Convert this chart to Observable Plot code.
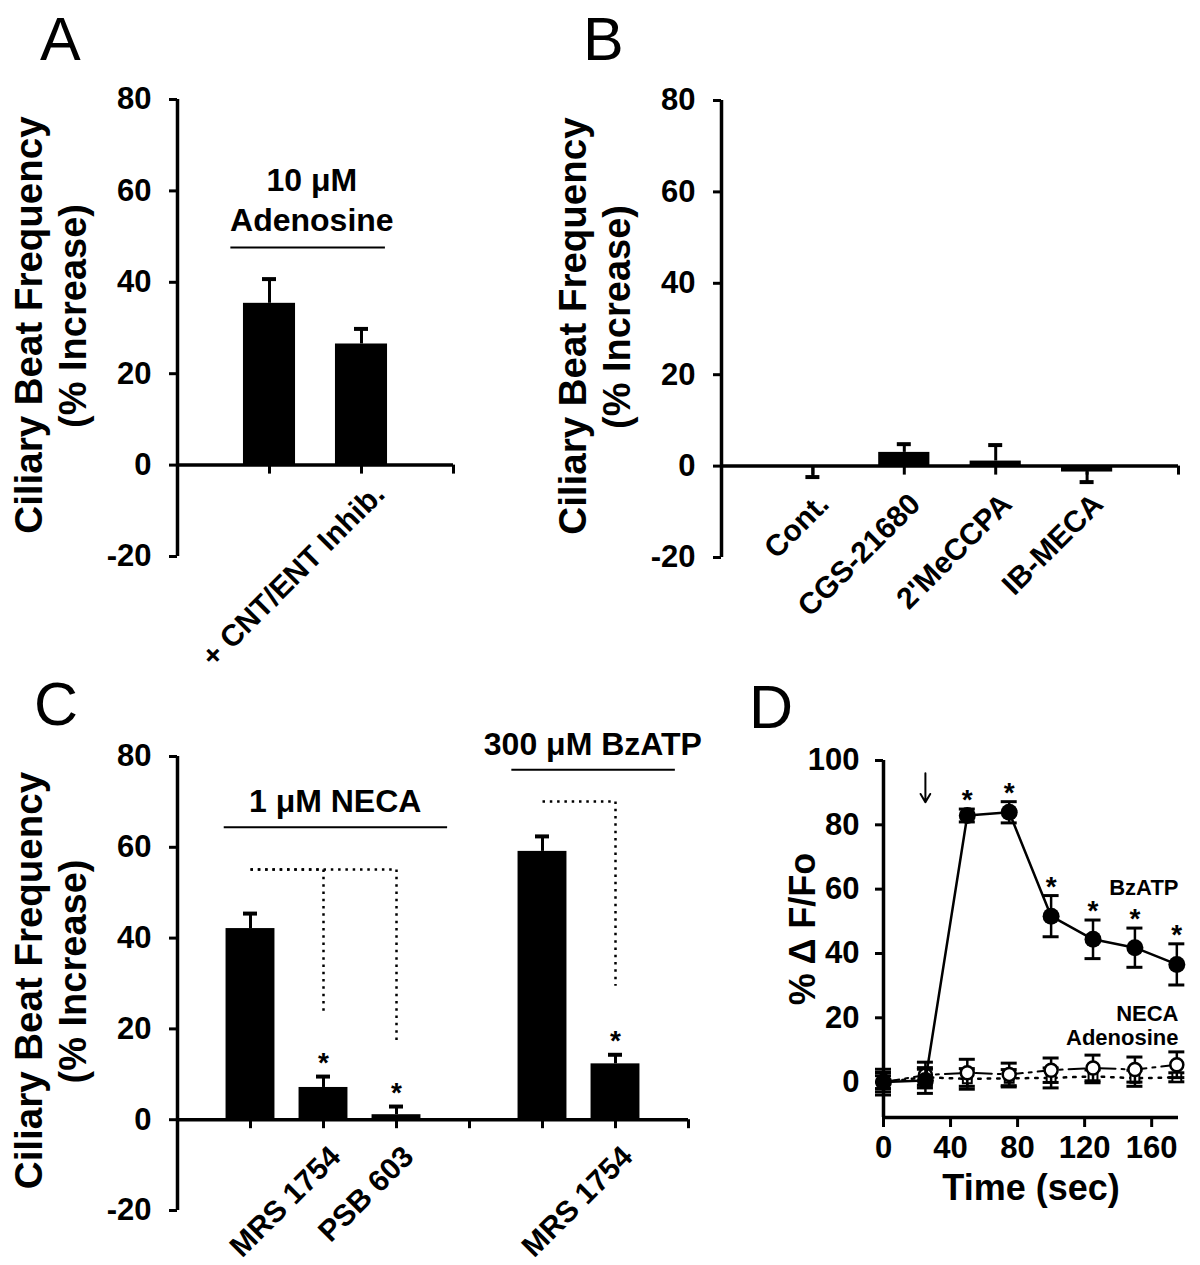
<!DOCTYPE html>
<html><head><meta charset="utf-8">
<script src="https://cdn.jsdelivr.net/npm/d3@7"></script>
<script src="https://cdn.jsdelivr.net/npm/@observablehq/plot@0.6"></script>
<style>
body{margin:0;background:#fff;}
#fig{position:relative;width:1200px;height:1265px;background:#fff;font-family:"Liberation Sans",Arial,sans-serif;}
.plabel{position:absolute;font-size:61px;line-height:1;font-family:"Liberation Sans",Arial,sans-serif;color:#000;}
</style></head><body><div id="fig"></div>
<script>
// ---------- DATA ----------
// Panel A
const posA = [1, 2];
const labelsA = ["", "+ CNT/ENT Inhib."];
const meanA = [35.4, 26.5];
const semA = [5.3, 3.3];
const ticksA = [1, 2, 3];
// Panel B
const posB = [1, 2, 3, 4];
const labelsB = ["Cont.", "CGS-21680", "2'MeCCPA", "IB-MECA"];
const meanB = [-0.3, 3.0, 1.1, -1.3];
const semB = [2.1, 1.8, 3.5, 2.2];
const ticksB = [1, 2, 3, 4, 5];
// Panel C
const posC = [1, 2, 3, 5, 6];
const labelsC = ["", "MRS 1754", "PSB 603", "", "MRS 1754"];
const meanC = [42.1, 7.1, 1.1, 59.1, 12.3];
const semC = [3.3, 2.4, 1.8, 3.3, 2.0];
const sigC = [false, true, true, false, true];
const ticksC = [1, 2, 3, 4, 5, 6, 7];
const bracketFrom = [1, 1, 5];
const bracketTo = [2, 3, 6];
const bracketTop = [55.1, 55.1, 70.1];
const bracketEnd = [23.4, 16.7, 29.5];
// Panel D
const timeD = [0, 25, 50, 75, 100, 125, 150, 175];
const bzatpMean = [0, 0.5, 82.9, 83.9, 51.6, 44.4, 41.8, 36.6];
const bzatpSem = [3, 4, 2, 3.3, 6.4, 6, 6.1, 6.4];
const bzatpSig = [false, false, true, true, true, true, true, true];
const necaMean = [0, 2.2, 2.9, 2.4, 3.7, 4.4, 3.9, 5.4];
const necaSem = [4, 4, 4.2, 3.5, 3.8, 4, 3.9, 4];
const adenoMean = [0, 1.5, 1.0, 1.2, 1.3, 1.8, 1.2, 1.5];
const adenoSem = [2, 2.5, 3.2, 2.7, 3.1, 2.0, 2.5, 1.4];
const ticksDx = [0, 40, 80, 120, 160];
const ticksDy = [0, 20, 40, 60, 80, 100];
const yTicksBar = [-20, 0, 20, 40, 60, 80];

// ---------- HELPERS ----------
const FONT = '"Liberation Sans", Arial, Helvetica, sans-serif';
const fig = document.getElementById("fig");
function place(node, left, top) {
  node.style.position = "absolute";
  node.style.left = left + "px";
  node.style.top = top + "px";
  fig.appendChild(node);
}
function panelLabel(t, left, top) {
  const d = document.createElement("div");
  d.className = "plabel"; d.textContent = t;
  d.style.left = left + "px"; d.style.top = top + "px";
  fig.appendChild(d);
}
const baseStyle = {fontFamily: FONT, fontWeight: "bold", fontSize: "31px", color: "#000", background: "transparent", overflow: "visible"};
const tip = d => d.mean + (d.mean < 0 ? -d.sem : d.sem);

function barMarks(data, ticks, xMin, half, ldx, ldy) {
  return [
    Plot.rect(data, {x1: d => d.pos - half, x2: d => d.pos + half, y1: 0, y2: "mean", fill: "#000"}),
    Plot.ruleX(data, {x: "pos", y1: "mean", y2: tip, strokeWidth: 3}),
    Plot.ruleY(data, {x1: "pos", x2: "pos", y: tip, insetLeft: -7, insetRight: -7, strokeWidth: 4}),
    Plot.axisY({ticks: yTicksBar, tickSize: 8, tickPadding: 18, strokeWidth: 3, tickFormat: d => String(d), label: null, fontSize: 31}),
    Plot.ruleX([xMin], {strokeWidth: 3.5}),
    Plot.ruleY([0], {strokeWidth: 3.5}),
    Plot.ruleX(ticks, {x: d => d, y1: 0, y2: 0, insetBottom: -9, strokeWidth: 3}),
    Plot.text(data.filter(d => d.label), {x: "pos", y: 0, text: "label", rotate: -45, textAnchor: "end", dx: ldx, dy: ldy, fontSize: 30}),
    Plot.text(["Ciliary Beat Frequency"], {frameAnchor: "left", textAnchor: "middle", lineAnchor: "middle", dx: -148, dy: -3, rotate: -90, fontSize: 38.5}),
    Plot.text(["(% Increase)"], {frameAnchor: "left", textAnchor: "middle", lineAnchor: "middle", dx: -104, dy: -12, rotate: -90, fontSize: 38})
  ];
}

// ---------- PANEL A ----------
const dataA = posA.map((p, i) => ({pos: p, label: labelsA[i], mean: meanA[i], sem: semA[i]}));
const plotA = Plot.plot({
  width: 600, height: 640, marginLeft: 177, marginRight: 147, marginTop: 99, marginBottom: 84,
  x: {domain: [0, 3], axis: null}, y: {domain: [-20, 80], axis: null},
  style: baseStyle,
  marks: [
    ...barMarks(dataA, ticksA, 0, 0.283, 18, 24),
    Plot.text(["10 μM"], {x: 1.46, y: 62.3, fontSize: 32}),
    Plot.text(["Adenosine"], {x: 1.46, y: 53.5, fontSize: 32}),
    Plot.ruleY([47.6], {x1: 0.58, x2: 2.26, strokeWidth: 2})
  ]
});
place(plotA, 0, 0);

// ---------- PANEL B ----------
const dataB = posB.map((p, i) => ({pos: p, label: labelsB[i], mean: meanB[i], sem: semB[i]}));
const plotB = Plot.plot({
  width: 600, height: 640, marginLeft: 121, marginRight: 22, marginTop: 100, marginBottom: 83,
  x: {domain: [0, 5], axis: null}, y: {domain: [-20, 80], axis: null},
  style: baseStyle,
  marks: barMarks(dataB, ticksB, 0, 0.28, 11, 33)
});
place(plotB, 600, 0);

// ---------- PANEL C ----------
const dataC = posC.map((p, i) => ({pos: p, label: labelsC[i], mean: meanC[i], sem: semC[i], sig: sigC[i]}));
const brackets = bracketFrom.map((f, i) => ({from: f, to: bracketTo[i], top: bracketTop[i], end: bracketEnd[i]}));
const plotC = Plot.plot({
  width: 760, height: 625, marginLeft: 177, marginRight: 72, marginTop: 116, marginBottom: 55,
  x: {domain: [0, 7], axis: null}, y: {domain: [-20, 80], axis: null},
  style: baseStyle,
  marks: [
    ...barMarks(dataC, ticksC, 0, 0.335, 12, 32),
    Plot.link(brackets, {x1: "from", x2: "to", y1: "top", y2: "top", strokeWidth: 2.5, strokeDasharray: "2.5,4.8"}),
    Plot.link(brackets, {x1: "to", x2: "to", y1: "top", y2: "end", strokeWidth: 2.5, strokeDasharray: "2.5,4.8"}),
    Plot.text(dataC.filter(d => d.sig), {x: "pos", y: tip, text: () => "*", dy: -14, fontSize: 28}),
    Plot.text(["1 μM NECA"], {x: 2.16, y: 70.1, fontSize: 32}),
    Plot.ruleY([64.4], {x1: 0.64, x2: 3.7, strokeWidth: 2}),
    Plot.text(["300 μM BzATP"], {x: 5.69, y: 82.6, fontSize: 32}),
    Plot.ruleY([77.1], {x1: 4.58, x2: 6.82, strokeWidth: 2})
  ]
});
place(plotC, 0, 640);

// ---------- PANEL D ----------
const mk = (m, s) => timeD.map((t, i) => ({t, mean: m[i], sem: s[i], lo: m[i] - s[i], hi: m[i] + s[i]}));
const bz = mk(bzatpMean, bzatpSem).map((d, i) => ({...d, sig: bzatpSig[i]}));
const ne = mk(necaMean, necaSem);
const ad = mk(adenoMean, adenoSem);
const yDomD = [-11, 100];
function errMarks(data, capW) {
  return [
    Plot.ruleX(data, {x: "t", y1: "lo", y2: "hi", strokeWidth: 2.5}),
    Plot.ruleY(data, {x1: "t", x2: "t", y: "hi", insetLeft: -capW, insetRight: -capW, strokeWidth: 3}),
    Plot.ruleY(data, {x1: "t", x2: "t", y: "lo", insetLeft: -capW, insetRight: -capW, strokeWidth: 3})
  ];
}
const plotD = Plot.plot({
  width: 440, height: 625, marginLeft: 123, marginRight: 22, marginTop: 120, marginBottom: 148,
  x: {domain: [0, 176], axis: null}, y: {domain: yDomD, axis: null},
  style: baseStyle,
  marks: [
    Plot.ruleX([0], {strokeWidth: 3.5}),
    Plot.ruleY([yDomD[0]], {strokeWidth: 3.5}),
    Plot.axisY({ticks: ticksDy, tickSize: 8, tickPadding: 16, strokeWidth: 3, tickFormat: d => String(d), label: null, fontSize: 31}),
    Plot.axisX({ticks: ticksDx, tickSize: 10, tickPadding: 8, strokeWidth: 3, tickFormat: d => String(d), label: null, fontSize: 31}),
    // Adenosine
    ...errMarks(ad, 8),
    Plot.line(ad, {x: "t", y: "mean", strokeWidth: 2.5, strokeDasharray: "2.5,7"}),
    Plot.dot(ad, {x: "t", y: "mean", symbol: "square", r: 5, fill: "white", stroke: "black", strokeWidth: 2}),
    // NECA
    ...errMarks(ne, 8),
    Plot.line(ne, {x: "t", y: "mean", strokeWidth: 2, strokeDasharray: "16,6,3,6"}),
    Plot.dot(ne, {x: "t", y: "mean", r: 6.5, fill: "white", stroke: "black", strokeWidth: 2.5}),
    // BzATP
    ...errMarks(bz, 8),
    Plot.line(bz, {x: "t", y: "mean", strokeWidth: 2.5}),
    Plot.dot(bz, {x: "t", y: "mean", r: 8.5, fill: "black"}),
    Plot.text(bz.filter(d => d.sig), {x: "t", y: "hi", text: () => "*", dy: -9, fontSize: 28}),
    Plot.arrow([{t: 25, from: 96, to: 87}], {x1: "t", x2: "t", y1: "from", y2: "to", strokeWidth: 2, headLength: 12}),
    Plot.text(["BzATP"], {x: 176, y: 60.5, textAnchor: "end", fontSize: 22}),
    Plot.text(["NECA"], {x: 176, y: 21.2, textAnchor: "end", fontSize: 22}),
    Plot.text(["Adenosine"], {x: 176, y: 13.6, textAnchor: "end", fontSize: 22}),
    Plot.text(["Time (sec)"], {frameAnchor: "bottom", textAnchor: "middle", lineAnchor: "middle", dy: 71, fontSize: 36}),
    Plot.text(["% Δ F/Fo"], {frameAnchor: "left", textAnchor: "middle", lineAnchor: "middle", dx: -80, dy: -10, rotate: -90, fontSize: 36})
  ]
});
place(plotD, 760, 640);

// panel letters
panelLabel("A", 40, 9);
panelLabel("B", 583, 9);
panelLabel("C", 34, 674);
panelLabel("D", 749, 677);
</script></body></html>
